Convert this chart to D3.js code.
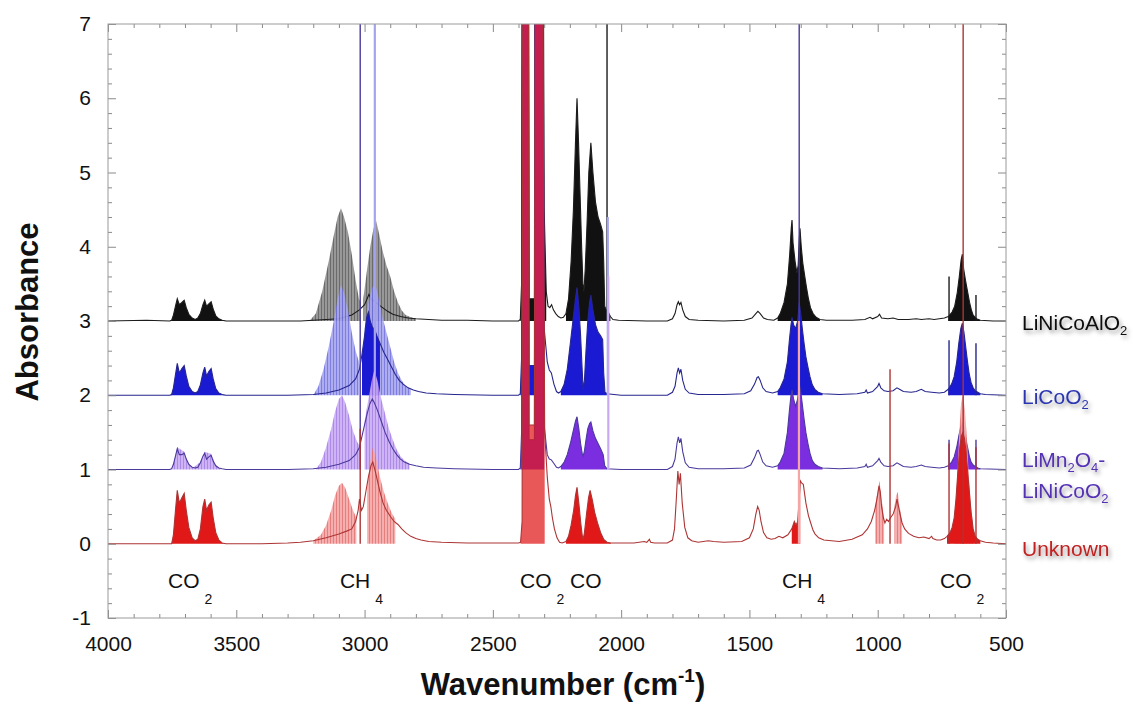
<!DOCTYPE html>
<html><head><meta charset="utf-8">
<script src="https://cdn.jsdelivr.net/npm/d3@7"></script>
<style>body{margin:0;background:#fff;} svg{display:block;font-family:Arial,"Liberation Sans",Helvetica,sans-serif;}</style>
</head><body><svg id="chart" width="1145" height="706"></svg>
<script>
// ---------------- DATA ----------------
const xTicks = [4000, 3500, 3000, 2500, 2000, 1500, 1000, 500];
const yTicks = [-1, 0, 1, 2, 3, 4, 5, 6, 7];
const seriesNames = ["LiNiCoAlO2", "LiCoO2", "LiMn2O4-LiNiCoO2", "Unknown"];
const offsets = [3, 2, 1, 0];

// main traces: [wavenumber, absorbance above the series baseline]
const blackLine = [[4000,0],[3850,0.01],[3760,0],[3752,0.01],[3745,0.08],[3737,0.2],[3730,0.3],[3722,0.22],[3712,0.25],[3703,0.28],[3695,0.18],[3685,0.09],[3672,0.04],[3660,0.02],[3650,0.04],[3640,0.1],[3630,0.22],[3623,0.28],[3616,0.2],[3607,0.23],[3598,0.26],[3590,0.16],[3580,0.07],[3568,0.03],[3555,0.01],[3540,0],
 [3400,0],[3250,0],[3200,0.01],[3100,0.03],[3050,0.08],[3020,0.15],[3000,0.22],[2990,0.3],[2983,0.36],[2975,0.3],[2965,0.27],[2950,0.23],[2930,0.18],[2910,0.13],[2890,0.09],[2860,0.06],[2830,0.04],[2800,0.03],[2750,0.02],[2700,0.01],[2600,0.01],[2500,0],
 [2400,0],[2393,0.02],[2388,0.5],[2384,8],[2362,8],[2359,0.3],[2338,0.3],[2335,8],[2306,8],[2300,1.5],[2292,0.4],[2285,0.2],[2278,0.18],[2271,0.22],[2264,0.15],[2255,0.1],[2245,0.06],[2235,0.04],[2225,0.05],[2215,0.1],
 [2205,0.3],[2195,0.8],[2186,1.5],[2178,2.4],[2172,3.0],[2166,2.4],[2160,1.7],[2154,1.0],[2149,0.5],[2145,0.4],[2140,0.7],[2133,1.3],[2126,2.0],[2118,2.4],[2110,2.0],[2100,1.6],[2090,1.4],[2080,1.3],[2072,1.2],[2068,0.8],[2064,0.2],[2058,0.15],[2050,0.12],[2042,0.06],[2032,0.02],[2010,0.01],[1900,0],
 [1820,0],[1800,0.03],[1790,0.1],[1782,0.22],[1777,0.26],[1772,0.22],[1767,0.25],[1760,0.15],[1750,0.06],[1735,0.02],[1700,0.01],[1600,0],[1520,0.01],[1490,0.04],[1475,0.1],[1467,0.13],[1458,0.1],[1445,0.04],[1430,0.02],[1405,0.01],
 [1390,0.04],[1380,0.1],[1365,0.25],[1352,0.5],[1343,0.9],[1337,1.25],[1334,1.36],[1330,1.05],[1322,0.8],[1315,0.65],[1310,0.75],[1306,1.1],[1303,1.25],[1298,1.0],[1292,0.78],[1285,0.62],[1278,0.46],[1270,0.3],[1262,0.18],[1252,0.1],[1240,0.05],[1225,0.02],[1200,0.01],
 [1100,0.01],[1050,0.02],[1030,0.05],[1020,0.03],[1000,0.06],[993,0.09],[985,0.04],[960,0.03],[940,0.04],[920,0.02],[880,0.02],[850,0.03],[830,0.02],[800,0.03],[780,0.02],[760,0.03],[740,0.04],
 [725,0.06],[710,0.12],[700,0.2],[690,0.38],[682,0.6],[675,0.82],[670,0.9],[665,0.7],[658,0.55],[650,0.4],[642,0.25],[635,0.15],[628,0.08],[615,0.03],[600,0.01],[550,0],[500,0]];

const blueLine = [[4000,0],[3760,0],[3752,0.01],[3745,0.1],[3737,0.28],[3730,0.43],[3722,0.3],[3712,0.36],[3703,0.4],[3695,0.26],[3685,0.12],[3672,0.05],[3660,0.03],[3650,0.05],[3640,0.14],[3630,0.3],[3623,0.38],[3616,0.26],[3607,0.32],[3598,0.36],[3590,0.22],[3580,0.09],[3568,0.03],[3555,0.01],[3540,0],
 [3300,0],[3200,0.01],[3150,0.03],[3100,0.07],[3060,0.13],[3035,0.22],[3020,0.35],[3010,0.55],[3000,0.8],[2992,1.05],[2985,1.12],[2978,1.0],[2970,0.92],[2960,0.88],[2950,0.78],[2940,0.7],[2925,0.58],[2910,0.48],[2895,0.38],[2880,0.28],[2865,0.2],[2850,0.15],[2830,0.1],[2810,0.07],[2790,0.05],[2760,0.03],[2720,0.02],[2650,0.01],[2500,0],
 [2400,0],[2393,0.02],[2388,0.5],[2384,8],[2362,8],[2359,0.4],[2338,0.4],[2335,8],[2306,8],[2300,0.9],[2288,0.45],[2280,0.34],[2272,0.3],[2262,0.15],[2252,0.05],[2244,0.03],[2235,0.05],[2222,0.15],[2210,0.35],[2198,0.7],[2188,1.0],[2178,1.3],[2172,1.45],[2165,1.2],[2158,0.8],[2152,0.35],[2148,0.08],[2143,0.2],[2137,0.6],[2130,1.0],[2123,1.25],[2118,1.35],[2110,1.15],[2100,0.95],[2090,0.85],[2080,0.8],[2072,0.75],[2068,0.3],[2063,0.04],[2055,0.02],[2000,0],
 [1820,0],[1800,0.04],[1790,0.12],[1782,0.3],[1777,0.37],[1772,0.3],[1767,0.35],[1760,0.2],[1750,0.08],[1735,0.03],[1700,0.01],[1600,0.01],[1520,0.02],[1495,0.06],[1480,0.15],[1470,0.24],[1465,0.25],[1458,0.2],[1448,0.1],[1435,0.05],[1410,0.03],
 [1390,0.05],[1380,0.1],[1365,0.22],[1352,0.45],[1344,0.75],[1338,0.95],[1334,1.05],[1328,0.95],[1320,0.9],[1312,1.0],[1306,1.25],[1300,1.1],[1294,0.9],[1287,0.7],[1280,0.52],[1272,0.38],[1264,0.25],[1255,0.14],[1245,0.08],[1232,0.04],[1215,0.02],[1150,0.01],
 [1080,0.02],[1050,0.04],[1045,0.07],[1040,0.03],[1020,0.05],[1000,0.12],[995,0.16],[988,0.1],[975,0.06],[960,0.05],[940,0.06],[925,0.1],[915,0.08],[900,0.05],[870,0.04],[850,0.05],[830,0.08],[815,0.05],[790,0.04],[760,0.03],[740,0.04],
 [725,0.08],[712,0.15],[702,0.25],[692,0.45],[684,0.7],[676,0.9],[670,0.97],[664,0.85],[657,0.65],[650,0.45],[643,0.28],[636,0.17],[628,0.1],[620,0.06],[610,0.04],[600,0.02],[580,0.01],[500,0]];

const purpleLine = [[4000,0],[3760,0],[3752,0.01],[3745,0.07],[3737,0.18],[3730,0.28],[3722,0.2],[3712,0.2],[3703,0.22],[3695,0.14],[3685,0.07],[3672,0.03],[3660,0.02],[3650,0.03],[3640,0.09],[3630,0.18],[3623,0.22],[3616,0.14],[3607,0.17],[3598,0.19],[3590,0.11],[3580,0.05],[3568,0.02],[3555,0.01],[3540,0],
 [3300,0],[3200,0.01],[3150,0.03],[3100,0.07],[3060,0.12],[3035,0.2],[3020,0.3],[3010,0.45],[3000,0.6],[2990,0.75],[2980,0.88],[2970,0.95],[2962,0.9],[2950,0.8],[2935,0.65],[2920,0.5],[2905,0.38],[2890,0.28],[2875,0.2],[2860,0.14],[2845,0.1],[2825,0.07],[2800,0.05],[2770,0.03],[2720,0.02],[2650,0.01],[2500,0],
 [2400,0],[2393,0.02],[2388,0.5],[2384,8],[2362,8],[2359,0.4],[2338,0.4],[2335,8],[2306,8],[2300,0.6],[2288,0.2],[2280,0.14],[2272,0.13],[2262,0.08],[2252,0.03],[2244,0.02],[2235,0.04],[2222,0.1],[2210,0.2],[2198,0.35],[2188,0.5],[2178,0.65],[2172,0.71],[2165,0.55],[2158,0.35],[2152,0.22],[2148,0.18],[2143,0.25],[2137,0.4],[2130,0.55],[2123,0.62],[2118,0.64],[2110,0.52],[2100,0.42],[2090,0.35],[2080,0.28],[2070,0.2],[2064,0.05],[2055,0.01],[2000,0],
 [1820,0],[1800,0.04],[1790,0.14],[1782,0.36],[1777,0.44],[1772,0.36],[1767,0.42],[1760,0.24],[1750,0.09],[1735,0.03],[1700,0.01],[1600,0.01],[1520,0.02],[1495,0.06],[1480,0.16],[1470,0.25],[1465,0.26],[1458,0.2],[1448,0.1],[1435,0.05],[1410,0.03],
 [1390,0.05],[1380,0.1],[1365,0.22],[1352,0.5],[1344,0.8],[1338,1.0],[1334,1.07],[1328,0.95],[1320,0.85],[1312,0.95],[1306,1.15],[1300,1.05],[1294,0.88],[1287,0.68],[1280,0.5],[1272,0.35],[1264,0.22],[1255,0.12],[1245,0.07],[1232,0.04],[1215,0.02],[1150,0.01],
 [1080,0.02],[1050,0.04],[1045,0.07],[1040,0.03],[1020,0.05],[1000,0.12],[995,0.15],[988,0.1],[975,0.05],[960,0.04],[940,0.05],[925,0.09],[915,0.07],[900,0.04],[870,0.03],[850,0.04],[830,0.06],[815,0.04],[790,0.03],[760,0.02],[740,0.03],
 [725,0.05],[712,0.1],[702,0.17],[692,0.3],[684,0.45],[676,0.58],[670,0.63],[664,0.55],[657,0.42],[650,0.3],[643,0.18],[636,0.1],[628,0.06],[620,0.04],[610,0.02],[600,0.01],[500,0]];

const redLine = [[4000,0],[3760,0],[3752,0],[3745,0.12],[3737,0.45],[3730,0.72],[3722,0.55],[3712,0.62],[3703,0.68],[3695,0.45],[3685,0.22],[3672,0.08],[3660,0.04],[3650,0.06],[3640,0.2],[3630,0.5],[3623,0.6],[3616,0.45],[3607,0.52],[3598,0.56],[3590,0.35],[3580,0.15],[3568,0.05],[3555,0.01],[3540,0],
 [3400,0],[3300,0.01],[3250,0.02],[3200,0.04],[3150,0.08],[3100,0.13],[3070,0.17],[3050,0.2],[3035,0.3],[3025,0.45],[3020,0.6],[3012,0.45],[3005,0.5],[2995,0.7],[2985,0.9],[2975,1.05],[2968,1.1],[2960,1.0],[2950,0.85],[2940,0.7],[2928,0.55],[2915,0.45],[2900,0.37],[2885,0.3],[2870,0.26],[2855,0.2],[2840,0.15],[2820,0.1],[2800,0.07],[2780,0.05],[2750,0.03],[2700,0.02],[2600,0.01],[2400,0.01],
 [2392,0.02],[2386,0.3],[2383,8],[2362,8],[2359,1.6],[2338,1.6],[2335,8],[2306,8],[2298,1.5],[2288,0.9],[2280,0.6],[2274,0.5],[2268,0.35],[2260,0.2],[2250,0.08],[2240,0.02],[2230,0.01],[2215,0.03],[2205,0.1],[2195,0.25],[2185,0.45],[2178,0.65],[2172,0.76],[2165,0.55],[2158,0.3],[2152,0.12],[2148,0.06],[2143,0.15],[2135,0.4],[2127,0.62],[2121,0.72],[2113,0.6],[2103,0.42],[2092,0.28],[2080,0.15],[2068,0.06],[2055,0.02],[2040,0.01],[1950,0.01],[1910,0.03],[1900,0.02],[1890,0.06],[1885,0.02],[1870,0.01],
 [1820,0.01],[1800,0.05],[1792,0.2],[1785,0.6],[1779,0.98],[1774,0.8],[1769,0.95],[1762,0.55],[1752,0.22],[1740,0.08],[1725,0.04],[1700,0.02],[1660,0.04],[1640,0.03],[1600,0.02],[1530,0.03],[1500,0.08],[1485,0.2],[1475,0.4],[1468,0.5],[1462,0.45],[1455,0.3],[1445,0.15],[1432,0.08],[1415,0.06],[1400,0.07],[1385,0.1],
 [1370,0.08],[1350,0.12],[1335,0.2],[1325,0.3],[1318,0.25],[1312,0.3],[1306,0.6],[1302,0.85],[1297,0.82],[1290,0.8],[1280,0.55],[1270,0.38],[1263,0.3],[1252,0.18],[1244,0.13],[1230,0.08],[1210,0.05],[1150,0.03],
 [1100,0.06],[1080,0.09],[1060,0.12],[1040,0.2],[1025,0.3],[1012,0.45],[1003,0.6],[995,0.78],[990,0.7],[985,0.5],[978,0.35],[972,0.28],[965,0.33],[958,0.3],[950,0.35],[940,0.4],[930,0.5],[925,0.6],[920,0.52],[912,0.38],[905,0.28],[895,0.2],[880,0.14],[860,0.1],[840,0.08],[820,0.09],[800,0.07],[790,0.1],[785,0.07],[770,0.05],[755,0.05],[740,0.07],
 [730,0.1],[718,0.15],[710,0.22],[702,0.35],[695,0.6],[688,0.95],[680,1.3],[674,1.45],[668,1.5],[662,1.42],[656,1.25],[650,1.0],[643,0.7],[636,0.42],[628,0.2],[620,0.1],[610,0.06],[600,0.04],[580,0.02],[550,0.01],[500,0]];

// wavenumber ranges where the dense rotational lines fill the area under the trace ("mix" = translucent)
const blackSolid = [[3760,3540],[2395,2290],[2215,2040],[1395,1215],[735,600]];
const blueSolid = [[3760,3540],[3010,2940],[2395,2290],[2235,2055],[1395,1215],[735,600]];
const purpleSolid = [[2395,2290],[2235,2055],[1395,1215],[735,600]];
const redSolid = [[3760,3540],[2395,2290,"mix"],[2215,2040],[1340,1300],[735,600]];

// envelopes of the lighter fine-structure (P/R branches)
const blackHaze = [
 [[3215,0],[3190,0.1],[3165,0.4],[3140,0.8],[3120,1.15],[3105,1.4],[3092,1.52],[3080,1.4],[3065,1.2],[3050,0.9],[3035,0.55],[3022,0.3],[3015,0.25]],
 [[3005,0.3],[2990,0.7],[2978,1.0],[2965,1.25],[2955,1.35],[2945,1.2],[2930,0.95],[2915,0.75],[2900,0.6],[2885,0.4],[2870,0.25],[2855,0.14],[2840,0.08],[2820,0.05],[2800,0.03]]];
const blueHaze = [
 [[3200,0],[3180,0.12],[3160,0.35],[3140,0.65],[3120,1.0],[3105,1.3],[3092,1.48],[3080,1.38],[3065,1.15],[3050,0.85],[3035,0.6],[3022,0.45]],
 [[3000,0.9],[2985,1.25],[2970,1.45],[2958,1.5],[2945,1.3],[2930,1.05],[2915,0.85],[2900,0.65],[2885,0.45],[2870,0.3],[2855,0.2],[2840,0.12],[2820,0.08]]];
const purpleHaze = [
 [[3190,0],[3170,0.1],[3150,0.3],[3130,0.55],[3115,0.78],[3100,0.95],[3088,1.0],[3075,0.9],[3060,0.72],[3045,0.52],[3030,0.38],[3020,0.32]],
 [[3000,0.65],[2985,0.95],[2972,1.2],[2962,1.34],[2950,1.2],[2935,0.95],[2920,0.75],[2905,0.55],[2890,0.4],[2875,0.27],[2860,0.18],[2845,0.12],[2825,0.08]],
 [[3750,0],[3737,0.2],[3730,0.3],[3703,0.24],[3690,0.1],[3670,0.02],[3640,0.1],[3623,0.24],[3598,0.21],[3580,0.06],[3560,0]]];
const redHaze = [
 [[3200,0.04],[3170,0.12],[3150,0.25],[3130,0.45],[3115,0.65],[3100,0.78],[3088,0.82],[3075,0.75],[3060,0.6],[3045,0.45],[3032,0.35]],
 [[2990,0.75],[2978,1.1],[2968,1.3],[2955,1.15],[2940,0.9],[2925,0.7],[2910,0.55],[2895,0.42],[2880,0.33]],
 [[1010,0.5],[1000,0.72],[993,0.85],[985,0.6],[975,0.35]],
 [[935,0.5],[928,0.65],[922,0.7],[915,0.5],[905,0.32]],
 [[700,0.4],[690,0.9],[682,1.5],[675,1.9],[668,2.0],[660,1.8],[652,1.4],[645,0.9],[636,0.5],[628,0.22]]];

// single sharp lines: [wavenumber, height above baseline, tone]
const blackSpikes = [[2055,5,"line"],[722,0.6,"line"],[617,0.35,"line"]];
const blueSpikes = [[2960,5.2,"haze"],[2052,2.4,"haze"],[722,0.74,"line"],[617,0.7,"line"]];
const purpleSpikes = [[3017,6.5,"line"],[2050,2.6,"haze"],[1306,6.5,"line"],[722,0.4,"line"],[617,0.4,"line"]];
const redSpikes = [[3017,1.55,"line"],[1307,3.0,"haze"],[952,2.35,"line"],[722,1.35,"line"],[667,7.5,"line"],[617,1.3,"line"]];

// band annotations: [label, subscript, wavenumber of left edge]
const annotations = [["CO","2",3766],["CH","4",3096],["CO","2",2394],["CO","",2199],["CH","4",1373],["CO","2",757]];

// ---------------- STYLE ----------------
const styles = [
  {line:"#1c1c1c", solid:"#111111", haze:"#8c8c8c", stripe:"#5a5a5a", label:"#111111"},
  {line:"#26268e", solid:"#1a1ad2", haze:"#a4a4ee", stripe:"#7070dc", label:"#2b36b0"},
  {line:"#4a3a9c", solid:"#7a2ee0", haze:"#c8aaf4", stripe:"#a47ce8", label:"#5432b4"},
  {line:"#ad3434", solid:"#e01818", haze:"#f4a6a6", stripe:"#e47070", label:"#c02020"}
];
const lines = [blackLine, blueLine, purpleLine, redLine];
const solids = [blackSolid, blueSolid, purpleSolid, redSolid];
const hazes = [blackHaze, blueHaze, purpleHaze, redHaze];
const spikes = [blackSpikes, blueSpikes, purpleSpikes, redSpikes];

// ---------------- CHART ----------------
const svg = d3.select("#chart");
const L = 108, R = 1006, T = 24, B = 618;
const x = d3.scaleLinear().domain([4000, 500]).range([L, R]);
const y = d3.scaleLinear().domain([-1, 7]).range([B, T]);
const fmt = d => String(d);

const defs = svg.append("defs");
defs.append("clipPath").attr("id", "plotclip").append("rect")
  .attr("x", L).attr("y", T).attr("width", R - L).attr("height", B - T);
const f = defs.append("filter").attr("id", "shadow").attr("x", "-10%").attr("y", "-30%").attr("width", "130%").attr("height", "180%");
f.append("feDropShadow").attr("dx", 2).attr("dy", 3).attr("stdDeviation", 2).attr("flood-color", "#000").attr("flood-opacity", 0.4);
styles.forEach((s, i) => {
  const p = defs.append("pattern").attr("id", "haze" + i).attr("patternUnits", "userSpaceOnUse")
    .attr("width", 3).attr("height", 10);
  p.append("rect").attr("width", 3).attr("height", 10).attr("fill", s.haze);
  p.append("rect").attr("width", 1).attr("height", 10).attr("fill", s.stripe);
});

const plot = svg.append("g").attr("clip-path", "url(#plotclip)");

lines.forEach((data, i) => {
  const off = offsets[i], s = styles[i];
  const g = plot.append("g");
  hazes[i].forEach(h => {
    g.append("path").datum(h)
      .attr("d", d3.area().x(d => x(d[0])).y0(y(off)).y1(d => y(d[1] + off)))
      .attr("fill", "url(#haze" + i + ")").attr("opacity", 0.9);
  });
  solids[i].forEach(([a, b, tone]) => {
    const seg = data.filter(d => d[0] <= a && d[0] >= b);
    g.append("path").datum(seg)
      .attr("d", d3.area().x(d => x(d[0])).y0(y(off)).y1(d => y(d[1] + off)))
      .attr("fill", s.solid).attr("fill-opacity", tone === "mix" ? 0.72 : 1);
  });
  g.append("path").datum(data)
    .attr("d", d3.line().x(d => x(d[0])).y(d => y(d[1] + off)))
    .attr("fill", "none").attr("stroke", s.line).attr("stroke-width", 1.1);
  g.selectAll("line.spike").data(spikes[i]).join("line").attr("class", "spike")
    .attr("x1", d => x(d[0])).attr("x2", d => x(d[0]))
    .attr("y1", y(off)).attr("y2", d => y(d[1] + off))
    .attr("stroke", d => d[2] === "haze" ? s.haze : s.line)
    .attr("stroke-width", d => d[2] === "haze" ? 2.2 : 1.4);
});

// axes
const minorX = d3.range(4000, 499, -100).filter(v => !xTicks.includes(v));
const minorY = d3.range(-1, 7.001, 0.2).map(v => +v.toFixed(1)).filter(v => !yTicks.includes(v));
const tickColor = "#8a8a8a";
function styleAxis(g) {
  g.select(".domain").remove();
  g.selectAll(".tick line").attr("stroke", tickColor);
  g.selectAll(".tick text").attr("fill", "#111").style("font-size", "21px")
    .style("font-family", "Arial, 'Liberation Sans', Helvetica, sans-serif");
}
svg.append("g").attr("transform", `translate(0,${B})`)
  .call(d3.axisBottom(x).tickValues(xTicks).tickSizeInner(-8).tickSizeOuter(0).tickPadding(18).tickFormat(fmt)).call(styleAxis);
svg.append("g").attr("transform", `translate(0,${B})`)
  .call(d3.axisBottom(x).tickValues(minorX).tickSizeInner(-4).tickSizeOuter(0).tickFormat("")).call(styleAxis);
svg.append("g").attr("transform", `translate(0,${T})`)
  .call(d3.axisTop(x).tickValues(xTicks).tickSizeInner(-8).tickSizeOuter(0).tickFormat("")).call(styleAxis);
svg.append("g").attr("transform", `translate(0,${T})`)
  .call(d3.axisTop(x).tickValues(minorX).tickSizeInner(-4).tickSizeOuter(0).tickFormat("")).call(styleAxis);
svg.append("g").attr("transform", `translate(${L},0)`)
  .call(d3.axisLeft(y).tickValues(yTicks).tickSizeInner(-8).tickSizeOuter(0).tickPadding(17).tickFormat(fmt)).call(styleAxis);
svg.append("g").attr("transform", `translate(${L},0)`)
  .call(d3.axisLeft(y).tickValues(minorY).tickSizeInner(-4).tickSizeOuter(0).tickFormat("")).call(styleAxis);
svg.append("g").attr("transform", `translate(${R},0)`)
  .call(d3.axisRight(y).tickValues(yTicks).tickSizeInner(-8).tickSizeOuter(0).tickFormat("")).call(styleAxis);
svg.append("g").attr("transform", `translate(${R},0)`)
  .call(d3.axisRight(y).tickValues(minorY).tickSizeInner(-4).tickSizeOuter(0).tickFormat("")).call(styleAxis);
svg.append("rect").attr("x", L).attr("y", T).attr("width", R - L).attr("height", B - T)
  .attr("fill", "none").attr("stroke", "#9a9a9a").attr("stroke-width", 1);

// annotations
annotations.forEach(([t, sub, wn]) => {
  const tx = svg.append("text").attr("x", x(wn)).attr("y", y(-0.6)).attr("fill", "#111")
    .style("font-size", "21px");
  tx.append("tspan").text(t);
  if (sub) tx.append("tspan").attr("dx", 5).attr("dy", 16).style("font-size", "14px").text(sub);
});

// series labels
const labelParts = [
  [[["LiNiCoAlO",0],["2",1]]],
  [[["LiCoO",0],["2",1]]],
  [[["LiMn",0],["2",1],["O",0],["4",1],["-",0]], [["LiNiCoO",0],["2",1]]],
  [[["Unknown",0]]]
];
const labelY = [[330], [404], [467, 498], [556]];
labelParts.forEach((rows, i) => {
  rows.forEach((parts, r) => {
    const t = svg.append("text").attr("x", 1022).attr("y", labelY[i][r])
      .attr("fill", styles[i].label).attr("filter", "url(#shadow)").style("font-size", "21px");
    let sub = false;
    parts.forEach(([txt, s]) => {
      const ts = t.append("tspan").text(txt);
      if (s && !sub) { ts.attr("dy", 5).style("font-size", "13px"); sub = true; }
      else if (!s && sub) { ts.attr("dy", -5); sub = false; }
      else if (s) ts.style("font-size", "13px");
    });
  });
});

// axis titles
svg.append("text").attr("transform", `translate(38,312) rotate(-90)`)
  .attr("text-anchor", "middle").style("font-size", "31px").style("font-weight", "bold").attr("fill", "#111")
  .text("Absorbance");
const xt = svg.append("text").attr("x", 563).attr("y", 695).attr("text-anchor", "middle")
  .style("font-size", "31px").style("font-weight", "bold").attr("fill", "#111");
xt.append("tspan").text("Wavenumber (cm");
xt.append("tspan").attr("dy", -13).style("font-size", "19px").text("-1");
xt.append("tspan").attr("dy", 13).text(")");
</script></body></html>
